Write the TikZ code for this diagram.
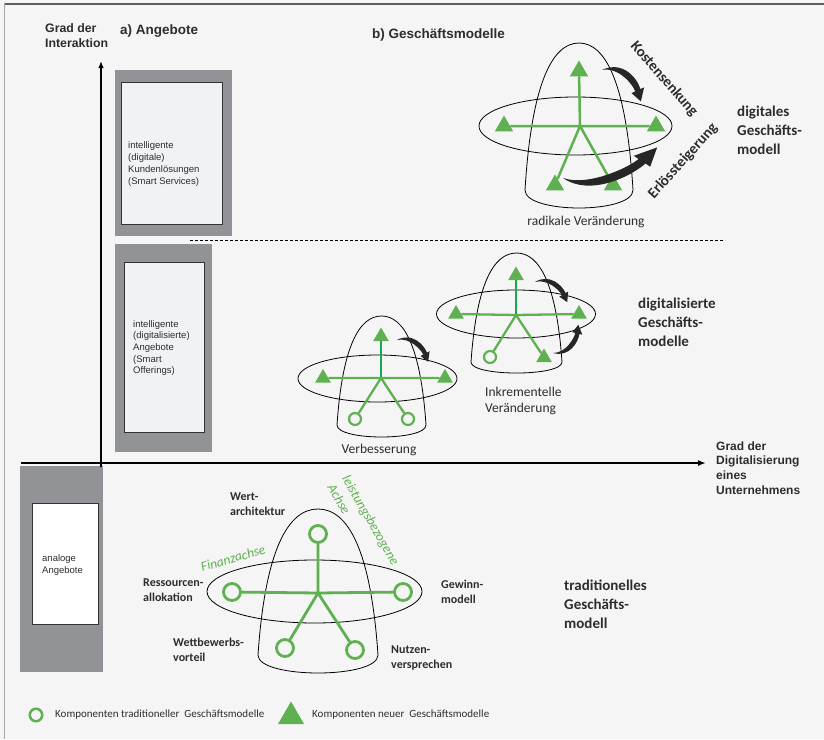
\documentclass[tikz,border=0pt]{standalone}
\usepackage{fontspec}
\setmainfont{Liberation Sans}
\newfontfamily\calibri{Carlito}
\usetikzlibrary{arrows.meta,shapes.geometric}
\definecolor{bggray}{RGB}{245,245,245}
\definecolor{boxgray}{RGB}{146,147,151}
\definecolor{innengray}{RGB}{241,242,245}
\definecolor{compgreen}{RGB}{94,176,80}
\definecolor{axisgreen}{RGB}{28,166,82}
\definecolor{labelgray}{RGB}{45,45,45}
\definecolor{framegray}{RGB}{95,95,95}
\begin{document}
\begin{tikzpicture}[x=1pt,y=-1pt,
  every node/.style={inner sep=0pt,text=labelgray},
  neukomp/.style={regular polygon,regular polygon sides=3,fill=compgreen,minimum size=#1},
  neukomp/.default=18,
  altkomp/.style={circle,draw=compgreen,line width=2.2pt,minimum size=#1},
  altkomp/.default=12,
  arm/.style={draw=compgreen,line width=#1},
  arm/.default=2.3pt,
  huelle/.style={draw=black,line width=0.8pt},
  titel/.style={font=\bfseries\fontsize{13.5}{16}\selectfont,anchor=west},
  achse/.style={font=\bfseries\fontsize{12.3}{15}\selectfont,align=left,anchor=west},
  modell/.style={font=\calibri\bfseries\fontsize{15}{19}\selectfont,align=left,anchor=west},
  baustein/.style={font=\calibri\bfseries\fontsize{12}{15}\selectfont,align=left,anchor=west},
  wandel/.style={font=\calibri\fontsize{13.5}{16}\selectfont},
  angebot/.style={font=\fontsize{9.5}{11.7}\selectfont,align=left,anchor=west},
  gruen/.style={font=\calibri\itshape\fontsize{13.5}{17}\selectfont,text=compgreen,align=left},
  hebel/.style={font=\calibri\bfseries\fontsize{15}{18}\selectfont},
  legende/.style={font=\calibri\fontsize{11}{12}\selectfont,anchor=west},
  swoosh/.pic={\path[fill=black!85] (0,0) .. controls (0.2,-0.35) and (0.66,-0.26) .. (0.837,-0.156)
    -- (0.873,-0.216) -- (1,0) -- (0.749,-0.010) -- (0.785,-0.070)
    .. controls (0.682,-0.132) and (0.22,-0.22) .. (0,0) -- cycle;}]
\path[use as bounding box,fill=bggray] (0,0) rectangle (824,739);
% frame:
\draw[framegray,line width=2pt] (4,3.5) -- (824,3.5);
\draw[gray!70,line width=1.5pt] (4.5,3) -- (4.5,739);
% offer boxes:
\path[fill=boxgray] (115,70) rectangle (232,236);
\path[draw=black!80,fill=innengray,line width=0.8pt] (121,82) rectangle (222,224);
\path[fill=boxgray] (115,244) rectangle (212,452);
\path[draw=black!80,fill=innengray,line width=0.8pt] (124,262) rectangle (204,432);
\path[fill=boxgray] (20,466) rectangle (103,672);
\path[draw=black!80,fill=white,line width=0.8pt] (32,503) rectangle (98,624);
\node[angebot] (smartserv) at (128,164) {intelligente\\(digitale)\\Kundenlösungen\\(Smart Services)};
\node[angebot] (smartoff) at (133,348) {intelligente\\(digitalisierte)\\Angebote\\(Smart\\Offerings)};
\node[angebot] (analog) at (42,565) {analoge\\Angebote};
% axes:
\coordinate (yfuss) at (101,467);
\coordinate (yspitze) at (101,61);
\coordinate (xfuss) at (21,463);
\coordinate (xspitze) at (706,463);
\coordinate (trennl) at (190,240);
\coordinate (trennr) at (725,240);
\draw[line width=1.3pt,-{Latex[length=7pt,width=5.5pt]}] (yfuss) -- (yspitze);
\draw[line width=1.8pt,-{Latex[length=8pt,width=6pt]}] (xfuss) -- (xspitze);
\draw[line width=0.8pt,dash pattern=on 3pt off 2pt] (trennl) -- (trennr);
\node[achse] (ylabel) at (45,35.5) {Grad der\\Interaktion};
\node[achse,font=\bfseries\fontsize{12}{14.8}\selectfont] (xlabel) at (716,468) {Grad der\\Digitalisierung\\eines\\Unternehmens};
\node[titel] (teila) at (120,31) {a) Angebote};
\node[titel] (teilb) at (372,35.5) {b) Geschäftsmodelle};
\node[modell] (digital) at (737,130) {digitales\\Geschäfts-\\modell};
\node[modell] (digitalisiert) at (638,322) {digitalisierte\\Geschäfts-\\modelle};
\node[modell] (tradition) at (564,604) {traditionelles\\Geschäfts-\\modell};
% radical change:
\draw[huelle] (525,190) .. controls (531.5,84.2) and (552,43) .. (579,43)
  .. controls (606,43) and (626.5,84.2) .. (633,190)
  .. controls (633,214) and (525,214) .. (525,190) -- cycle;
\draw[huelle] (575.5,126) ellipse [x radius=96.5,y radius=29];
\coordinate (r0) at (580,126);
\node[neukomp=21] (r1) at (579,71) {};
\node[neukomp=21] (r2) at (504,126) {};
\node[neukomp=21] (r3) at (656,126) {};
\node[neukomp=21] (r4) at (555,185) {};
\node[neukomp=21] (r5) at (613,185) {};
\draw[arm=2.5pt] (r0) -- (r1) (r0) -- (r2) (r0) -- (r3) (r0) -- (r4) (r0) -- (r5);
\pic[rotate=-39,xscale=50,yscale=60] at (602,70) {swoosh};
\pic[rotate=18,xscale=99,yscale=-75] at (563,178) {swoosh};
\node[hebel,rotate=-49] (kosten) at (664,79) {Kostensenkung};
\node[hebel,rotate=48] (erloes) at (683,161) {Erlössteigerung};
\node[wandel] (radikal) at (586,222) {radikale Veränderung};
% incremental change:
\draw[huelle] (471,362) .. controls (476.5,283.5) and (493.75,253) .. (516.5,253)
  .. controls (539.25,253) and (556.5,283.5) .. (562,362)
  .. controls (562,376.7) and (471,376.7) .. (471,362) -- cycle;
\draw[huelle] (516,314) ellipse [x radius=79.5,y radius=24];
\coordinate (i0) at (516,315);
\node[neukomp] (i1) at (516,275.5) {};
\node[neukomp] (i2) at (456,314) {};
\node[neukomp] (i3) at (579,314) {};
\node[altkomp] (i4) at (490,357) {};
\node[neukomp] (i5) at (544,357.5) {};
\draw[arm,draw=axisgreen] (i0) -- (i1);
\draw[arm] (i0) -- (i2) (i0) -- (i3) (i0) -- (i4) (i0) -- (i5);
\pic[rotate=-32,xscale=38,yscale=44] at (535,282) {swoosh};
\pic[rotate=48,xscale=38,yscale=-44] at (553,353) {swoosh};
\node[wandel,align=left,anchor=west] (inkrem) at (485,400.5) {Inkrementelle\\Veränderung};
% improvement:
\draw[huelle] (337,425) .. controls (342.3,346.5) and (359.25,316) .. (381.5,316)
  .. controls (403.75,316) and (420.7,346.5) .. (426,425)
  .. controls (426,441) and (337,441) .. (337,425) -- cycle;
\draw[huelle] (377.5,378.5) ellipse [x radius=79.5,y radius=23.5];
\coordinate (v0) at (381,378);
\node[neukomp] (v1) at (381,336.5) {};
\node[neukomp] (v2) at (323,378) {};
\node[neukomp] (v3) at (445,378) {};
\node[altkomp] (v4) at (355,419) {};
\node[altkomp] (v5) at (408,419) {};
\draw[arm,draw=axisgreen] (v0) -- (v1);
\draw[arm] (v0) -- (v2) (v0) -- (v3) (v0) -- (v4) (v0) -- (v5);
\pic[rotate=-35,xscale=38,yscale=44] at (397,340) {swoosh};
\node[wandel] (verbess) at (379,450) {Verbesserung};
% traditional model:
\draw[huelle] (258,655) .. controls (265.2,549.9) and (288,509) .. (318,509)
  .. controls (348,509) and (370.8,549.9) .. (378,655)
  .. controls (378,679) and (258,679) .. (258,655) -- cycle;
\draw[huelle] (314.5,591.5) ellipse [x radius=107.5,y radius=31.5];
\coordinate (t0) at (318,593);
\node[altkomp=17,line width=2.8pt] (t1) at (318,534) {};
\node[altkomp=17,line width=2.8pt] (t2) at (232,592) {};
\node[altkomp=17,line width=2.8pt] (t3) at (403,592) {};
\node[altkomp=17,line width=2.8pt] (t4) at (285,648) {};
\node[altkomp=17,line width=2.8pt] (t5) at (355,650) {};
\draw[arm=2.8pt] (t0) -- (t1) (t0) -- (t2) (t0) -- (t3) (t0) -- (t4) (t0) -- (t5);
\node[baustein] (wert) at (230,504.5) {Wert-\\architektur};
\node[baustein] (ressourcen) at (143,590.5) {Ressourcen-\\allokation};
\node[baustein] (wettbewerb) at (173,650) {Wettbewerbs-\\vorteil};
\node[baustein] (nutzen) at (391,658.5) {Nutzen-\\versprechen};
\node[baustein] (gewinn) at (441,592) {Gewinn-\\modell};
\node[gruen,rotate=16] (finanz) at (233,558) {Finanzachse};
\node[gruen,rotate=-60] (leistung) at (363.6,524.3) {leistungsbezogene\\Achse};
% legend:
\node[altkomp=12.5,line width=2.5pt] (legalt) at (36,715) {};
\node[legende] (legalttext) at (55,715) {Komponenten traditioneller\ \ Geschäftsmodelle};
\node[neukomp=30] (legneu) at (291,716.5) {};
\node[legende] (legneutext) at (312,715) {Komponenten neuer\ \ Geschäftsmodelle};
\end{tikzpicture}
\end{document}
